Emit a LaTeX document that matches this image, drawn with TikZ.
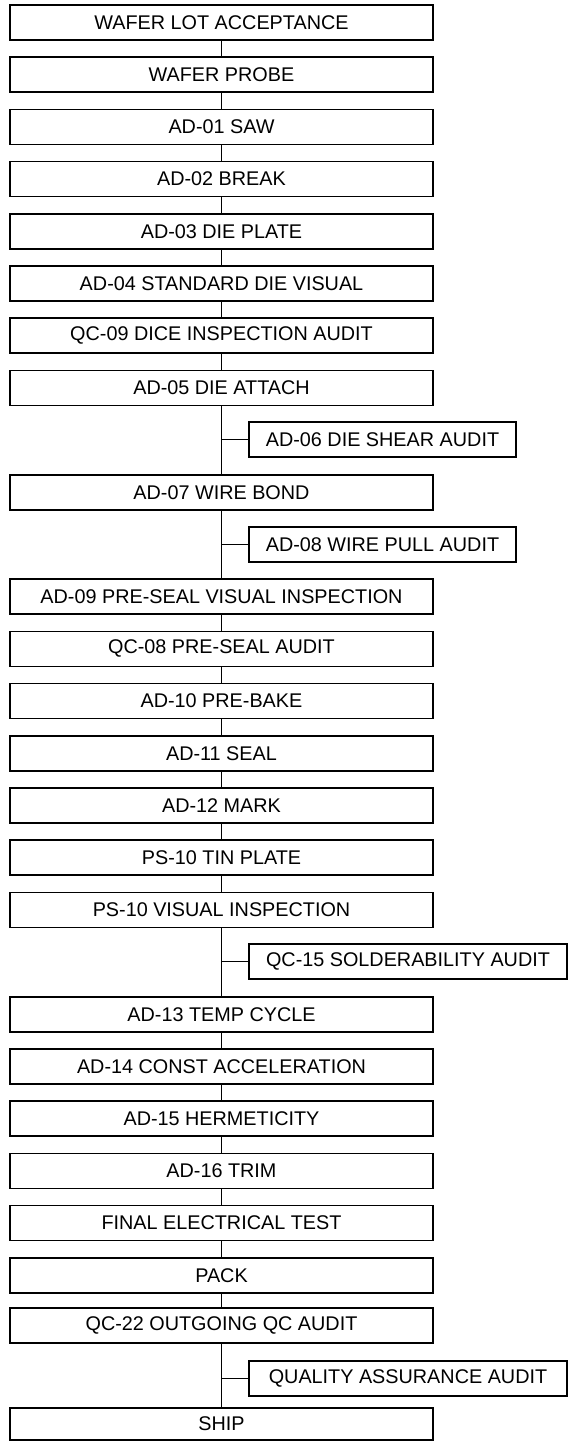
\documentclass[tikz,border=0pt]{standalone}
\usepackage{fontspec}
\setmainfont{Liberation Sans}
\begin{document}
\begin{tikzpicture}[x=1pt,y=-1pt,
  box/.style={draw=black, line width=1.5pt, minimum height=35pt, inner sep=0pt, font=\fontsize{19.8}{20}\selectfont, text=black},
  mainbox/.style={box, minimum width=423pt},
  sidebox/.style={box, minimum width=267pt},
  widebox/.style={box, minimum width=318pt},
  link/.style={draw=black, line width=1.5pt}]
\useasboundingbox[fill=white] (0,0) rectangle (575,1442);
\node[mainbox] (m0)  at (221.5,22.5)  {WAFER LOT ACCEPTANCE};
\node[mainbox] (m1)  at (221.5,74.7)  {WAFER PROBE};
\node[mainbox] (m2)  at (221.5,126.9) {AD-01 SAW};
\node[mainbox] (m3)  at (221.5,179.1) {AD-02 BREAK};
\node[mainbox] (m4)  at (221.5,231.3) {AD-03 DIE PLATE};
\node[mainbox] (m5)  at (221.5,283.5) {AD-04 STANDARD DIE VISUAL};
\node[mainbox] (m6)  at (221.5,335.7) {QC-09 DICE INSPECTION AUDIT};
\node[mainbox] (m7)  at (221.5,387.9) {AD-05 DIE ATTACH};
\node[sidebox] (s1)  at (382.5,439.5) {AD-06 DIE SHEAR AUDIT};
\node[mainbox] (m8)  at (221.5,492.3) {AD-07 WIRE BOND};
\node[sidebox] (s2)  at (382.5,544.5) {AD-08 WIRE PULL AUDIT};
\node[mainbox] (m9)  at (221.5,596.7) {AD-09 PRE-SEAL VISUAL INSPECTION};
\node[mainbox] (m10) at (221.5,648.9) {QC-08 PRE-SEAL AUDIT};
\node[mainbox] (m11) at (221.5,701.1) {AD-10 PRE-BAKE};
\node[mainbox] (m12) at (221.5,753.3) {AD-11 SEAL};
\node[mainbox] (m13) at (221.5,805.5) {AD-12 MARK};
\node[mainbox] (m14) at (221.5,857.7) {PS-10 TIN PLATE};
\node[mainbox] (m15) at (221.5,909.9) {PS-10 VISUAL INSPECTION};
\node[widebox] (s3)  at (408,961.5)   {QC-15 SOLDERABILITY AUDIT};
\node[mainbox] (m16) at (221.5,1014.3) {AD-13 TEMP CYCLE};
\node[mainbox] (m17) at (221.5,1066.5) {AD-14 CONST ACCELERATION};
\node[mainbox] (m18) at (221.5,1118.7) {AD-15 HERMETICITY};
\node[mainbox] (m19) at (221.5,1170.9) {AD-16 TRIM};
\node[mainbox] (m20) at (221.5,1223.1) {FINAL ELECTRICAL TEST};
\node[mainbox] (m21) at (221.5,1275.3) {PACK};
\node[mainbox] (m22) at (221.5,1325.5) {QC-22 OUTGOING QC AUDIT};
\node[widebox] (s4)  at (408,1378.5)  {QUALITY ASSURANCE AUDIT};
\node[mainbox, minimum height=32pt] (m23) at (221.5,1424) {SHIP};
\foreach \a/\b in {m0/m1,m1/m2,m2/m3,m3/m4,m4/m5,m5/m6,m6/m7,m7/m8,m8/m9,m9/m10,m10/m11,m11/m12,m12/m13,m13/m14,m14/m15,m15/m16,m16/m17,m17/m18,m18/m19,m19/m20,m20/m21,m21/m22,m22/m23}
  \draw[link] (\a.south) -- (\b.north);
\foreach \s/\m in {s1/m7,s2/m8,s3/m15,s4/m22}
  \draw[link] (\s.west) -- (\s.west -| \m.south);
\end{tikzpicture}
\end{document}
